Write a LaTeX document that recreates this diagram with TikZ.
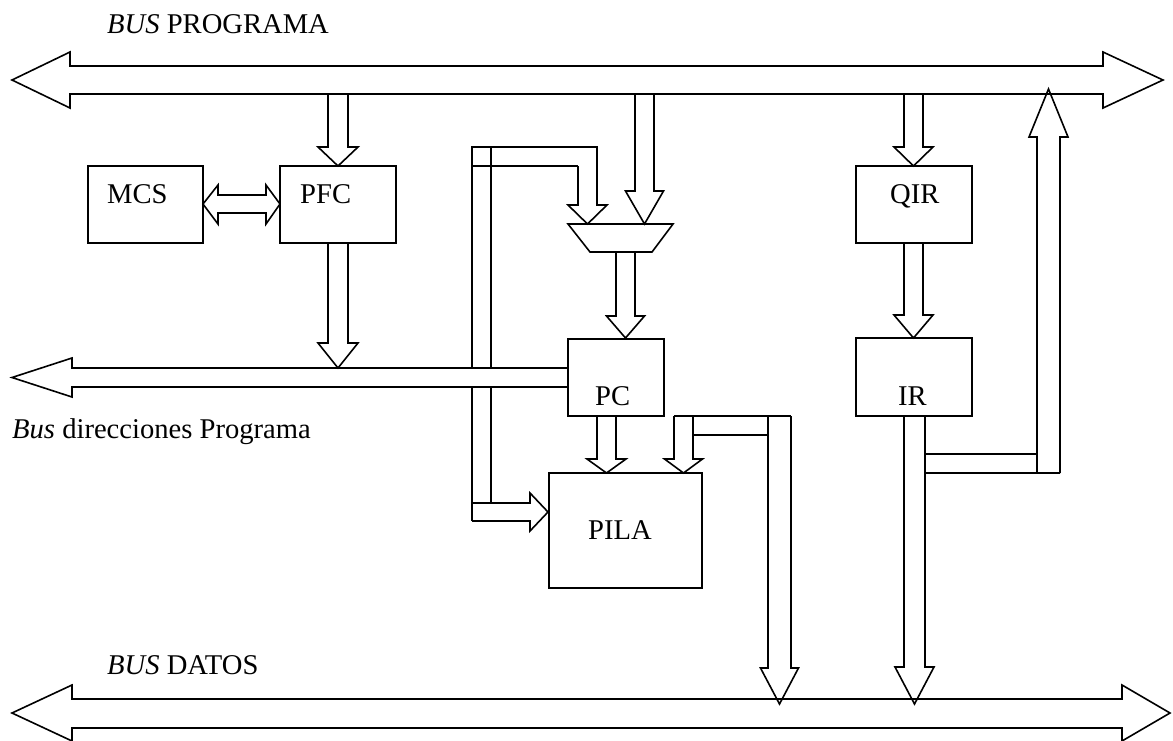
\documentclass[tikz,border=0pt]{standalone}
\usepackage{fontspec}
\setmainfont{Liberation Serif}
\tikzset{
  ln/.style={line width=1.6pt, line join=miter, draw=black},
  boxst/.style={ln, rectangle, inner sep=0pt},
  lbl/.style={anchor=base west, inner sep=0pt, font=\fontsize{28.6}{32}\selectfont},
}
% vertical block arrow: centre x, start y, head-back y, tip y, shaft half width, head half width
\newcommand\ArrV[6]{\draw[ln] ({#1-#5},#2) -- ({#1-#5},#3) -- ({#1-#6},#3) -- (#1,#4) -- ({#1+#6},#3) -- ({#1+#5},#3) -- ({#1+#5},#2);}
% horizontal block arrow: centre y, start x, head-back x, tip x, shaft half width, head half width
\newcommand\ArrH[6]{\draw[ln] (#2,{#1-#5}) -- (#3,{#1-#5}) -- (#3,{#1-#6}) -- (#4,#1) -- (#3,{#1+#6}) -- (#3,{#1+#5}) -- (#2,{#1+#5});}
\begin{document}
\begin{tikzpicture}[x=1pt,y=-1pt]
\useasboundingbox (0,0) rectangle (1173,740);

% ---------- left feedback loop (PC address -> mux and PILA)
\draw[ln] (472,521) -- (472,147) -- (597,147) -- (597,166);
\draw[ln] (491,503) -- (491,147);
\draw[ln] (472,166) -- (578,166);
\ArrV{587.5}{166}{205}{224}{9.5}{19.5}
\ArrH{512}{472}{530}{548}{9}{19}

% ---------- address bus (covers the loop)
\draw[ln, fill=white] (12,377.5) -- (72,358) -- (72,368) -- (568,368) -- (568,387) -- (72,387) -- (72,397) -- cycle;

% ---------- top bus
\draw[ln] (12,80) -- (70,52) -- (70,66) -- (1103,66) -- (1103,52) -- (1163,80) -- (1103,108) -- (1103,94) -- (70,94) -- (70,108) -- cycle;

% ---------- data bus
\draw[ln] (12,713) -- (72,685) -- (72,699) -- (1122,699) -- (1122,685) -- (1170,713) -- (1122,741) -- (1122,728) -- (72,728) -- (72,741) -- cycle;

% ---------- boxes
\node[boxst, minimum width=115pt, minimum height=77pt] (mcs) at (145.5,204.5) {};
\node[boxst, minimum width=116pt, minimum height=77pt] (pfc) at (338,204.5) {};
\node[boxst, minimum width=116pt, minimum height=77pt] (qir) at (914,204.5) {};
\node[boxst, minimum width=116pt, minimum height=78pt] (ir) at (914,377) {};
\node[boxst, fill=white, minimum width=96pt, minimum height=77pt] (pc) at (616,377.5) {};
\node[boxst, minimum width=153pt, minimum height=115pt] (pila) at (625.5,530.5) {};
\draw[ln] (568,224) coordinate (muxa) -- (673,224) -- (652,252) -- (590,252) -- cycle;

% ---------- labels
\node[lbl] (tbus) at (107,33) {\textit{BUS} PROGRAMA};
\node[lbl] (tmcs) at (107,203) {MCS};
\node[lbl] (tpfc) at (300,203) {PFC};
\node[lbl] (tqir) at (890,203) {QIR};
\node[lbl] (tpc) at (595,405) {PC};
\node[lbl] (tir) at (898,405) {IR};
\node[lbl] (tpila) at (588,539) {PILA};
\node[lbl] (tdir) at (12,438) {\textit{Bus} direcciones Programa};
\node[lbl] (tdat) at (107,674) {\textit{BUS} DATOS};

% ---------- MCS <-> PFC
\draw[ln] (203,204) -- (218,185) -- (218,195) -- (266,195) -- (266,185) -- (280,204) -- (266,224) -- (266,213) -- (218,213) -- (218,224) -- cycle;

% ---------- arrows from/to the top bus
\ArrV{338}{94}{147}{166}{10}{20}
\ArrV{338}{243}{343}{368}{10}{20}
\ArrV{644.5}{94}{191}{224}{9.5}{19}
\ArrV{913.5}{94}{147}{166}{9.5}{19.5}
\ArrV{913.5}{243}{315}{338}{9.5}{19.5}

% ---------- mux -> PC, PC -> PILA
\ArrV{625.5}{252}{316}{338}{9.5}{19}
\ArrV{606.5}{416}{459}{473}{9.5}{19.5}

% ---------- channel from PC to PILA and data bus
\ArrV{683.5}{416}{459}{473}{9.5}{19}
\draw[ln] (674,416) -- (791,416);
\draw[ln] (693,435) -- (768,435);
\ArrV{779.5}{416}{668}{704}{11.5}{19}

% ---------- IR -> data bus and back to program bus
\ArrV{914.5}{416}{667}{704}{10.5}{19.5}
\draw[ln] (925,454) -- (1037,454);
\draw[ln] (925,473) -- (1060,473);
\ArrV{1048.5}{473}{137}{89}{11.5}{19.5}
\end{tikzpicture}
\end{document}
